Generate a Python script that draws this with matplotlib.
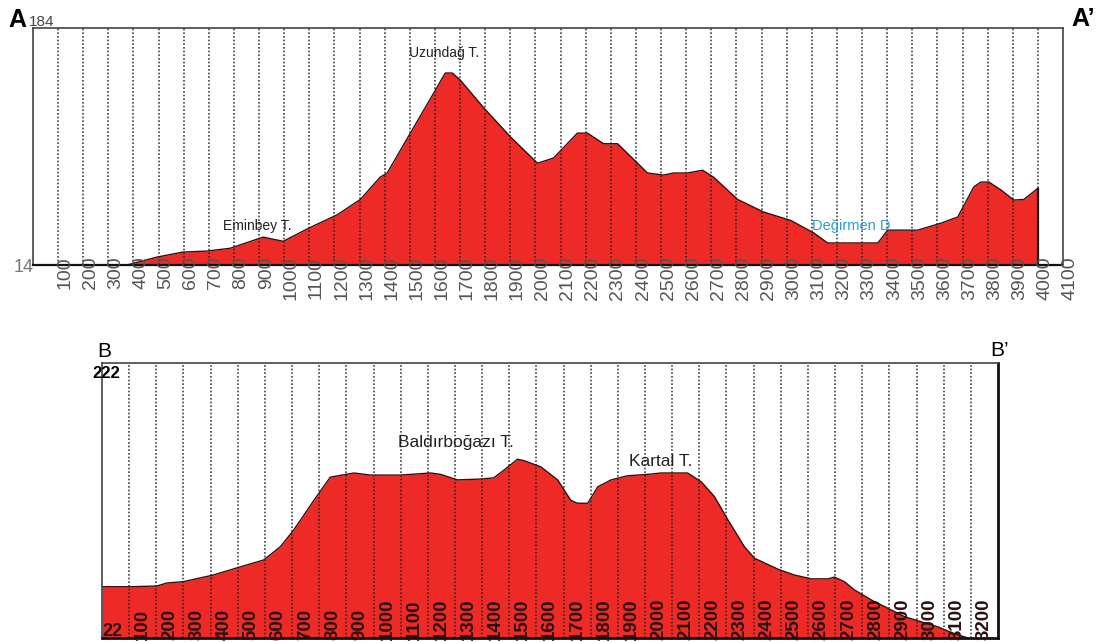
import matplotlib
matplotlib.use("Agg")
import matplotlib.pyplot as plt

plt.rcParams['font.family'] = ['Liberation Sans', 'DejaVu Sans']

# profile A-A' (distance m, elevation m)
a_dist = [0, 374, 494, 598, 693, 785, 916, 996, 1104, 1211, 1303, 1382, 1410, 1502,
          1594, 1641, 1669, 1701, 1793, 1900, 2008, 2072, 2167, 2207, 2271, 2327,
          2446, 2510, 2550, 2606, 2665, 2709, 2805, 2908, 3016, 3108, 3163, 3363,
          3402, 3522, 3614, 3681, 3745, 3773, 3805, 3853, 3904, 3944, 4000]
a_elev = [14, 14, 19.7, 23.3, 24, 26, 34, 31, 41, 50, 61, 77, 80, 108.6,
          137, 151.7, 151.7, 146.6, 127, 106, 87, 90.7, 108.6, 108.6, 101, 101,
          80, 78.5, 80, 80, 82, 77, 61, 52, 46, 37, 29.8, 29.8,
          39, 39, 44, 48.4, 70, 73.5, 73.5, 67.8, 60.6, 61, 69]
a_ticks = list(range(100, 4200, 100))
a_min, a_max = 14, 184

# profile B-B'
b_dist = [0, 103, 202, 239, 300, 410, 497, 595, 657, 706, 780, 841, 928, 989, 1100,
          1210, 1247, 1309, 1395, 1443, 1480, 1530, 1554, 1616, 1678, 1727, 1752,
          1789, 1826, 1875, 1936, 2010, 2059, 2157, 2207, 2255, 2305, 2366, 2403,
          2490, 2550, 2613, 2674, 2697, 2734, 2771, 2834, 2956, 3080, 3140, 3166, 3190]
b_elev = [59.3, 59.3, 59.8, 62, 63, 67.8, 73, 78.7, 88.4, 100.5, 122, 139, 142, 140.5, 140.5,
          142, 141, 137, 137.6, 138.5, 144, 152, 151, 146.5, 137, 122, 120,
          120, 132, 137, 140, 141, 142, 142, 135.6, 125, 108, 88.4, 80,
          72, 67.8, 65, 65, 66.3, 63, 57, 49.6, 37.5, 30, 25, 23.5, 22]
b_ticks = list(range(100, 3300, 100))
b_min, b_max = 22, 222

RED = '#ee2a26'
W, H = 1102, 642

def fpos(x, y):
    return x / W, 1 - y / H

fig = plt.figure(figsize=(W / 100, H / 100), dpi=100)

# ---- A - A' ----
axA = fig.add_axes([33 / W, 1 - 265 / H, 1030 / W, 237 / H])
axA.set_xlim(0, 4100)
axA.set_ylim(a_min, a_max)
axA.fill_between(a_dist, a_elev, a_min, color=RED, lw=0, zorder=1)
axA.plot(a_dist, a_elev, color='#3a0c0c', lw=1, zorder=2)
axA.vlines(a_dist[-1], a_min, a_elev[-1], color='#111111', lw=1.6, zorder=2)
axA.vlines(a_ticks[:-1], a_min, a_max, color='#222222', lw=1.2,
           linestyles=(0, (1, 1.2)), alpha=0.85, zorder=3)
axA.set_xticks([])
axA.set_yticks([])
for t in a_ticks:
    axA.annotate(str(t), xy=(t, 0), xycoords=('data', 'axes fraction'),
                 xytext=(-1, 6), textcoords='offset points', rotation=90,
                 ha='left', va='top', fontsize=14, color='#555555', zorder=4)
for s in ['left', 'top', 'right']:
    axA.spines[s].set_color('#444444')
    axA.spines[s].set_linewidth(1.2)
axA.spines['bottom'].set_linestyle((0, (1, 1)))
axA.spines['bottom'].set_linewidth(1.6)
axA.spines['bottom'].set_color('#111111')

fig.text(*fpos(17, 20), 'A', fontsize=18, fontweight='bold', ha='center', va='center')
fig.text(*fpos(1083, 19), 'A\u2019', fontsize=18, fontweight='bold', ha='center', va='center')
fig.text(*fpos(42, 22), '184', fontsize=11, color='#444444', ha='center', va='center')
fig.text(*fpos(24, 267), '14', fontsize=13, color='#777777', ha='center', va='center')
fig.text(*fpos(444, 53), 'Uzundağ T.', fontsize=10, ha='center', va='center', color='#222222')
fig.text(*fpos(257, 226), 'Eminbey T.', fontsize=10, ha='center', va='center', color='#222222')
fig.text(*fpos(851, 226), 'Değirmen D', fontsize=10.5, ha='center', va='center', color='#2a9fd0')

# ---- B - B' ----
axB = fig.add_axes([102 / W, 1 - 638 / H, 896 / W, 275 / H])
axB.set_xlim(0, 3300)
axB.set_ylim(b_min, b_max)
axB.fill_between(b_dist, b_elev, b_min, color=RED, lw=0, zorder=1)
axB.plot(b_dist, b_elev, color='#3a0c0c', lw=1, zorder=2)
axB.vlines(b_ticks, b_min, b_max, color='#222222', lw=1.2,
           linestyles=(0, (1, 1.2)), alpha=0.85, zorder=3)
axB.set_xticks([])
axB.set_yticks([])
for t in b_ticks:
    axB.annotate(str(t), xy=(t, 0), xycoords=('data', 'axes fraction'),
                 xytext=(3.5, -1.5), textcoords='offset points', rotation=90,
                 ha='left', va='bottom', fontsize=13.5, fontweight='bold',
                 color='#2a1010', zorder=4)
for s in ['left', 'top']:
    axB.spines[s].set_color('#444444')
    axB.spines[s].set_linewidth(1.2)
for s in ['bottom', 'right']:
    axB.spines[s].set_linestyle((0, (1, 1)))
    axB.spines[s].set_linewidth(2)
    axB.spines[s].set_color('#111111')

fig.text(*fpos(104, 352), 'B', fontsize=15, ha='center', va='center')
fig.text(*fpos(1000, 351), 'B\u2019', fontsize=15, ha='center', va='center')
fig.text(*fpos(106, 373), '222', fontsize=12, fontweight='bold', ha='center', va='center')
fig.text(*fpos(112, 632), '22', fontsize=13, fontweight='bold', ha='center', va='center',
         color='#2a1010')
fig.text(*fpos(456, 442), 'Baldırboğazı T.', fontsize=12.5, ha='center', va='center', color='#222222')
fig.text(*fpos(661, 461), 'Kartal T.', fontsize=12.5, ha='center', va='center', color='#222222')

fig.savefig('out.png', dpi=100)
